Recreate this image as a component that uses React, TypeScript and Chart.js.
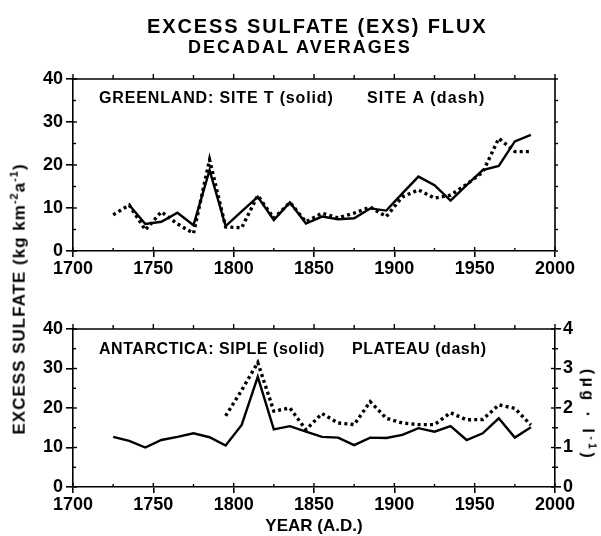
import React, { useEffect, useRef } from 'react';
import { Chart, registerables } from 'chart.js';

Chart.register(...registerables);

// ---------- data ----------
const YEARS = [1725, 1735, 1745, 1755, 1765, 1775, 1785, 1795, 1805, 1815, 1825, 1835, 1845, 1855, 1865, 1875, 1885, 1895, 1905, 1915, 1925, 1935, 1945, 1955, 1965, 1975, 1985];
// Greenland Site T (solid), kg km-2 a-1
const SITE_T = [null, 10.7, 6.3, 6.8, 8.9, 6.0, 18.8, 5.8, 9.2, 12.6, 7.2, 11.3, 6.4, 8.0, 7.4, 7.6, 9.9, 9.4, 13.4, 17.3, 15.3, 11.7, 15.3, 18.8, 19.8, 25.5, 27.0];
// Greenland Site A (dash)
const SITE_A = [8.4, 10.7, 4.9, 9.1, 6.3, 4.1, 21.2, 5.6, 5.4, 12.9, 7.6, 11.3, 6.8, 8.8, 7.7, 8.8, 10.2, 8.0, 12.6, 14.2, 12.3, 13.0, 15.5, 18.3, 26.2, 23.1, 23.1];
// Antarctica Siple (solid), kg km-2 a-1
const SIPLE = [12.7, 11.7, 10.0, 11.9, 12.7, 13.6, 12.6, 10.5, 15.7, 27.9, 14.6, 15.4, 14.0, 12.7, 12.5, 10.6, 12.5, 12.4, 13.2, 14.9, 14.0, 15.4, 11.9, 13.6, 17.4, 12.5, 15.1];
// Antarctica Plateau (dash), ug/l (right axis)
const PLATEAU = [null, null, null, null, null, null, null, 1.80, 2.45, 3.15, 1.92, 2.00, 1.45, 1.86, 1.62, 1.58, 2.16, 1.74, 1.62, 1.58, 1.58, 1.88, 1.70, 1.71, 2.08, 1.99, 1.57];

const X_TICKS = [1700, 1750, 1800, 1850, 1900, 1950, 2000];
const Y_TICKS = [0, 10, 20, 30, 40];
const Y1_TICKS = [0, 1, 2, 3, 4];

const FONT = '"Liberation Sans", Arial, Helvetica, sans-serif';

const toXY = (vals: (number | null)[]) => YEARS.map((x, i) => ({ x, y: vals[i] }));

function makeFrame(rightAxis: boolean) {
  return {
    id: 'frame' + (rightAxis ? 'R' : 'L'),
    afterDatasetsDraw(chart: any) {
      const { ctx, chartArea } = chart;
      const { left, right, top, bottom } = chartArea;
      const xs = chart.scales.x;
      const ys = chart.scales.y;
      ctx.save();
      ctx.strokeStyle = '#000';
      ctx.lineWidth = 1.6;
      ctx.beginPath();
      ctx.moveTo(left, top);
      ctx.lineTo(right, top);
      if (!rightAxis) ctx.lineTo(right, bottom);
      ctx.stroke();
      ctx.lineWidth = 1.4;
      const seg = (x1: number, y1: number, x2: number, y2: number) => {
        ctx.beginPath();
        ctx.moveTo(x1, y1);
        ctx.lineTo(x2, y2);
        ctx.stroke();
      };
      for (let v = X_TICKS[0]; v <= X_TICKS[X_TICKS.length - 1]; v += 25) {
        const px = xs.getPixelForValue(v);
        const major = v % 50 === 0;
        seg(px, bottom, px, bottom - (major ? 4 : 3));
        seg(px, top, px, top - (major ? 5 : 4));
      }
      for (let v = 0; v <= 40; v += 5) {
        const py = ys.getPixelForValue(v);
        seg(left, py, left + (v % 10 === 0 ? 4 : 3), py);
        if (!rightAxis) seg(right, py, right + 3, py);
      }
      if (rightAxis) {
        const y1 = chart.scales.y1;
        for (let v = 0; v <= 4; v += 0.5) {
          const py = y1.getPixelForValue(v);
          seg(right, py, right - (v % 1 === 0 ? 4 : 3), py);
          if (v % 1 !== 0) seg(right, py, right + 3, py);
        }
      }
      ctx.restore();
    },
  };
}

const tickFont = { family: FONT, size: 18, weight: 'bold' as const };

function xScale(height: number, withTitle: boolean) {
  return {
    type: 'linear' as const,
    min: 1700,
    max: 2000,
    afterBuildTicks: (s: any) => { s.ticks = X_TICKS.map((v) => ({ value: v })); },
    ticks: { color: '#000', font: tickFont, padding: 1, maxRotation: 0, autoSkip: false, callback: (v: any) => String(v) },
    grid: { drawOnChartArea: false, color: '#000', lineWidth: 1.6, tickLength: 6 },
    border: { color: '#000', width: 1.6 },
    title: withTitle
      ? { display: true, text: 'YEAR (A.D.)', color: '#000', font: { family: FONT, size: 17, weight: 'bold', lineHeight: 1.0 }, padding: { top: 0, bottom: 1 } }
      : { display: false },
    afterFit: (s: any) => { s.height = height; },
  };
}

function yScale() {
  return {
    type: 'linear' as const,
    position: 'left' as const,
    min: 0,
    max: 40,
    afterBuildTicks: (s: any) => { s.ticks = Y_TICKS.map((v) => ({ value: v })); },
    ticks: { color: '#000', font: tickFont, padding: 3, callback: (v: any) => String(v) },
    grid: { drawOnChartArea: false, color: '#000', lineWidth: 1.6, tickLength: 7 },
    border: { color: '#000', width: 1.6 },
    afterFit: (s: any) => { s.width = 73; },
  };
}

const solidStyle = { borderColor: '#000', borderWidth: 2.4, pointRadius: 0, tension: 0, fill: false };
const dashStyle = { borderColor: '#000', borderWidth: 3.4, borderDash: [3, 3.2], pointRadius: 0, tension: 0, fill: false };

function TopChart() {
  const ref = useRef<HTMLCanvasElement>(null);
  useEffect(() => {
    const chart = new Chart(ref.current!, {
      type: 'line',
      data: {
        datasets: [
          { label: 'Site T', data: toXY(SITE_T), ...solidStyle },
          { label: 'Site A', data: toXY(SITE_A), ...dashStyle },
        ],
      },
      options: {
        responsive: false,
        animation: false,
        devicePixelRatio: 1,
        layout: { padding: { top: 79, right: 46, left: 0, bottom: 0 } },
        plugins: { legend: { display: false }, tooltip: { enabled: false }, title: { display: false } },
        scales: { x: xScale(39, false), y: yScale() } as any,
      },
      plugins: [makeFrame(false)],
    } as any);
    return () => chart.destroy();
  }, []);
  return <canvas ref={ref} width={601} height={290} style={{ position: 'absolute', left: 0, top: 0 }} />;
}

function BottomChart() {
  const ref = useRef<HTMLCanvasElement>(null);
  useEffect(() => {
    const chart = new Chart(ref.current!, {
      type: 'line',
      data: {
        datasets: [
          { label: 'Siple', data: toXY(SIPLE), yAxisID: 'y', ...solidStyle },
          { label: 'Plateau', data: toXY(PLATEAU), yAxisID: 'y1', ...dashStyle },
        ],
      },
      options: {
        responsive: false,
        animation: false,
        devicePixelRatio: 1,
        layout: { padding: { top: 39, right: 0, left: 0, bottom: 0 } },
        plugins: { legend: { display: false }, tooltip: { enabled: false }, title: { display: false } },
        scales: {
          x: xScale(49, true),
          y: yScale(),
          y1: {
            type: 'linear',
            position: 'right',
            min: 0,
            max: 4,
            afterBuildTicks: (s: any) => { s.ticks = Y1_TICKS.map((v) => ({ value: v })); },
            ticks: { color: '#000', font: tickFont, padding: 2, callback: (v: any) => String(v) },
            grid: { drawOnChartArea: false, color: '#000', lineWidth: 1.6, tickLength: 6 },
            border: { color: '#000', width: 1.6 },
            afterFit: (s: any) => { s.width = 46; },
          },
        } as any,
      },
      plugins: [makeFrame(true)],
    } as any);
    return () => chart.destroy();
  }, []);
  return <canvas ref={ref} width={601} height={246} style={{ position: 'absolute', left: 0, top: 290 }} />;
}

const txt = (extra: React.CSSProperties): React.CSSProperties => ({
  position: 'absolute',
  fontFamily: FONT,
  fontWeight: 'bold',
  color: '#000',
  whiteSpace: 'nowrap',
  lineHeight: 1,
  ...extra,
});

export default function App() {
  return (
    <div style={{ position: 'absolute', left: 0, top: 0, width: 601, height: 536, background: '#fff', overflow: 'hidden' }}>
      <TopChart />
      <BottomChart />
      <div style={txt({ left: 147, top: 16, fontSize: 20, letterSpacing: 1.9 })}>EXCESS SULFATE (EXS) FLUX</div>
      <div style={txt({ left: 188, top: 38, fontSize: 18, letterSpacing: 2.0 })}>DECADAL AVERAGES</div>
      <div style={txt({ left: 99, top: 90, fontSize: 16, letterSpacing: 0.85 })}>GREENLAND: SITE T (solid)</div>
      <div style={txt({ left: 367, top: 90, fontSize: 16, letterSpacing: 1.2 })}>SITE A (dash)</div>
      <div style={txt({ left: 99, top: 341, fontSize: 16, letterSpacing: 0.55 })}>ANTARCTICA: SIPLE (solid)</div>
      <div style={txt({ left: 352, top: 341, fontSize: 16, letterSpacing: 0.55 })}>PLATEAU (dash)</div>
      <div style={txt({ left: 18, top: 299, fontSize: 17, letterSpacing: 1.0, transform: 'translate(-50%, -50%) rotate(-90deg)' })}>
        EXCESS SULFATE (kg km<sup style={{ fontSize: 11 }}>-2</sup>a<sup style={{ fontSize: 11 }}>-1</sup>)
      </div>
      <div style={txt({ left: 588, top: 415, fontSize: 16, letterSpacing: 3.5, transform: 'translate(-50%, -50%) rotate(90deg)' })}>
        (µg · l<sup style={{ fontSize: 10 }}>-1</sup>)
      </div>
    </div>
  );
}
